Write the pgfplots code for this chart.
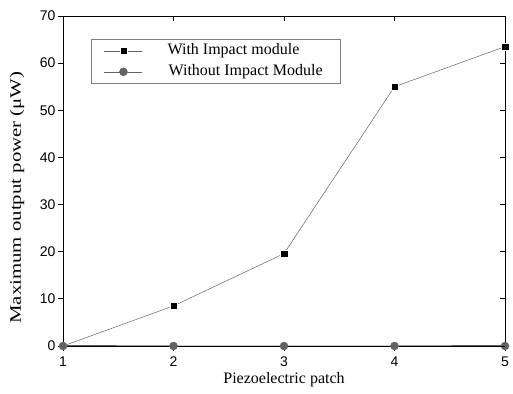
\documentclass[border=0pt]{standalone}
\usepackage{fontspec}
\setmainfont{Liberation Serif}
\newfontfamily\arial{Liberation Sans}
\usepackage{pgfplots}
\pgfplotsset{compat=1.18}
\definecolor{cgray}{HTML}{626262}
\begin{document}
\begin{tikzpicture}
\pgfplotsset{
  common/.style={
    scale only axis, width=442pt, height=330pt,
    xmin=1, xmax=5, ymin=0, ymax=70,
    xtick={1,2,3,4,5}, ytick={0,10,...,70},
    major tick length=5pt,
    clip=false,
  }
}
\begin{axis}[common,
  tick align=outside, xtick pos=bottom, ytick pos=left,
  axis line style={line width=0.9pt},
  tick style={line width=0.8pt, black},
  /pgf/number format/assume math mode=true,
  ticklabel style={font=\arial\fontsize{14}{16}\selectfont},
  xticklabel style={yshift=-2pt},
  yticklabel style={xshift=1pt},
  xlabel={\fontsize{16}{18}\selectfont Piezoelectric patch},
  ylabel={\scalebox{1.3}[1]{\fontsize{16}{18}\selectfont Maximum output power (μW)}},
  xlabel style={at={(axis description cs:0.5,0)}, anchor=base, yshift=-38pt},
  ylabel style={at={(axis description cs:0,0.45)}, anchor=base, yshift=42pt},
  legend style={at={(rel axis cs:0.0633,0.930)}, anchor=north west,
    draw=gray, line width=0.5pt, font=\fontsize{16}{18}\selectfont,
    inner xsep=13pt, inner ysep=4pt, row sep=6pt,
    /tikz/every odd column/.style={column sep=25pt},
    nodes={inner sep=0pt, text height=11pt, text depth=4pt}},
  legend cell align=left,
  legend image code/.code={
    \draw[#1, line width=0.4pt, mark=none] (0pt,0pt) -- (38pt,0pt);
    \draw[#1, only marks] plot coordinates {(19pt,0pt)};
  },
]
\addplot[color=cgray, line width=0.5pt, mark=square*, mark size=3.7pt,
  mark options={draw=white, fill=black, line width=0.4pt}]
  coordinates {(1,0) (2,8.5) (3,19.6) (4,55.0) (5,63.5)};
\addlegendentry{\makebox[160pt][l]{With Impact module}}
\addplot[color=cgray, line width=1pt, mark=*, mark size=4pt,
  mark options={draw=cgray, fill=cgray, line width=0.4pt}]
  coordinates {(1,0) (2,0) (3,0) (4,0) (5,0)};
\addlegendentry{\makebox[160pt][l]{\hspace{1pt}Without Impact Module}}
\end{axis}
\begin{axis}[common,
  tick align=inside, xtick pos=top, ytick pos=right,
  xticklabels={}, yticklabels={},
  axis line style={draw=none},
  tick style={line width=0.8pt, black},
]
\end{axis}
\pgfresetboundingbox
\path[use as bounding box] ([xshift=-63pt,yshift=-48pt]current axis.south west) rectangle ([xshift=8pt,yshift=16pt]current axis.north east);
\end{tikzpicture}
\end{document}
